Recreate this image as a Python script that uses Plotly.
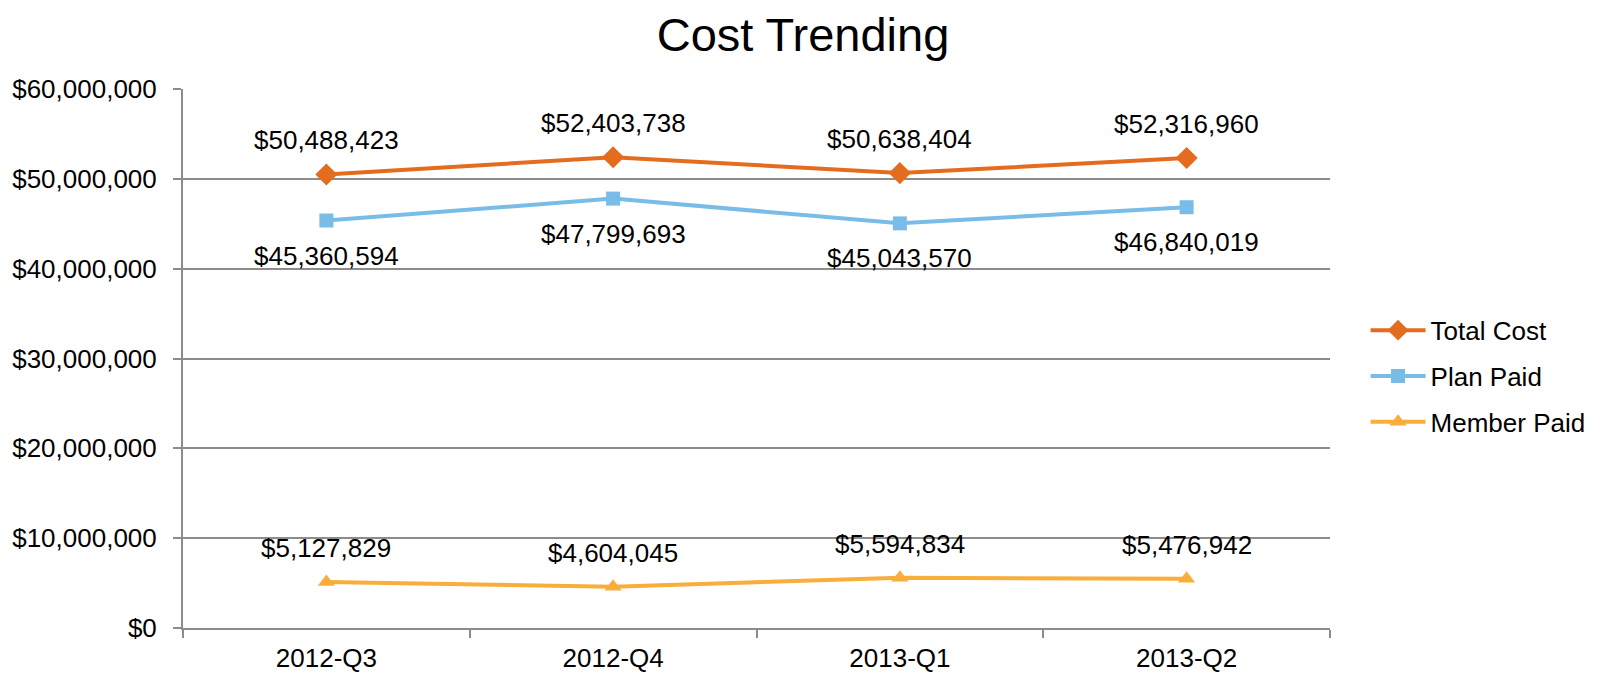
import plotly.graph_objects as go

categories = ["2012-Q3", "2012-Q4", "2013-Q1", "2013-Q2"]
total_cost = [50488423, 52403738, 50638404, 52316960]
plan_paid = [45360594, 47799693, 45043570, 46840019]
member_paid = [5127829, 4604045, 5594834, 5476942]
y_ticks = [0, 10000000, 20000000, 30000000, 40000000, 50000000, 60000000]

FONT = "Liberation Sans, Arial, sans-serif"

def fmt(v):
    return "${:,}".format(v)

fig = go.Figure()
series = [
    ("Total Cost", total_cost, "#E46C1F", "diamond", 17, 34),
    ("Plan Paid", plan_paid, "#7ABCE8", "square", 14, -35),
    ("Member Paid", member_paid, "#F9AD3B", "triangle-up", 15, 34),
]
annotations = []
for name, vals, color, sym, size, shift in series:
    fig.add_trace(go.Scatter(
        x=categories, y=vals, name=name, mode="lines+markers",
        legendgroup=name,
        line=dict(color=color, width=4),
        marker=dict(symbol=sym, size=size, color=color),
        cliponaxis=False,
    ))
    for c, v in zip(categories, vals):
        annotations.append(dict(
            x=c, y=v, xref="x", yref="y", text=fmt(v), showarrow=False,
            yshift=shift, xanchor="center", yanchor="middle",
            font=dict(family=FONT, size=26, color="#000000"),
        ))

fig.update_layout(
    width=1590, height=667,
    paper_bgcolor="white", plot_bgcolor="white",
    margin=dict(l=175, r=268, t=81, b=47, autoexpand=False),
    font=dict(family=FONT, size=26, color="#000000"),
    title=dict(text="Cost Trending", x=0.5, xref="container", xanchor="center",
               y=1 - 27 / 667, yref="container", yanchor="middle",
               font=dict(family=FONT, size=47, color="#000000")),
    showlegend=True,
    legend=dict(x=1.031, xanchor="left", y=0.467, yanchor="middle",
                font=dict(family=FONT, size=26, color="#000000"),
                itemwidth=55, tracegroupgap=9, bgcolor="rgba(0,0,0,0)"),
    annotations=annotations,
    xaxis=dict(type="category", range=[-0.5, 3.5], showgrid=False,
               showline=True, linecolor="#8C8C8C", linewidth=2,
               ticks="outside", tickson="boundaries", ticklen=8,
               tickcolor="#8C8C8C", tickwidth=2, ticklabelstandoff=6,
               tickfont=dict(family=FONT, size=26, color="#000000"),
               zeroline=False),
    yaxis=dict(range=[0, 60000000], tickvals=y_ticks,
               ticktext=[fmt(v) for v in y_ticks],
               showgrid=True, gridcolor="#8C8C8C", gridwidth=1.5,
               showline=True, linecolor="#8C8C8C", linewidth=2,
               ticks="outside", ticklen=8, tickcolor="#8C8C8C", tickwidth=2,
               ticklabelstandoff=11,
               tickfont=dict(family=FONT, size=26, color="#000000"),
               zeroline=False),
)

fig.write_html("out.html")
